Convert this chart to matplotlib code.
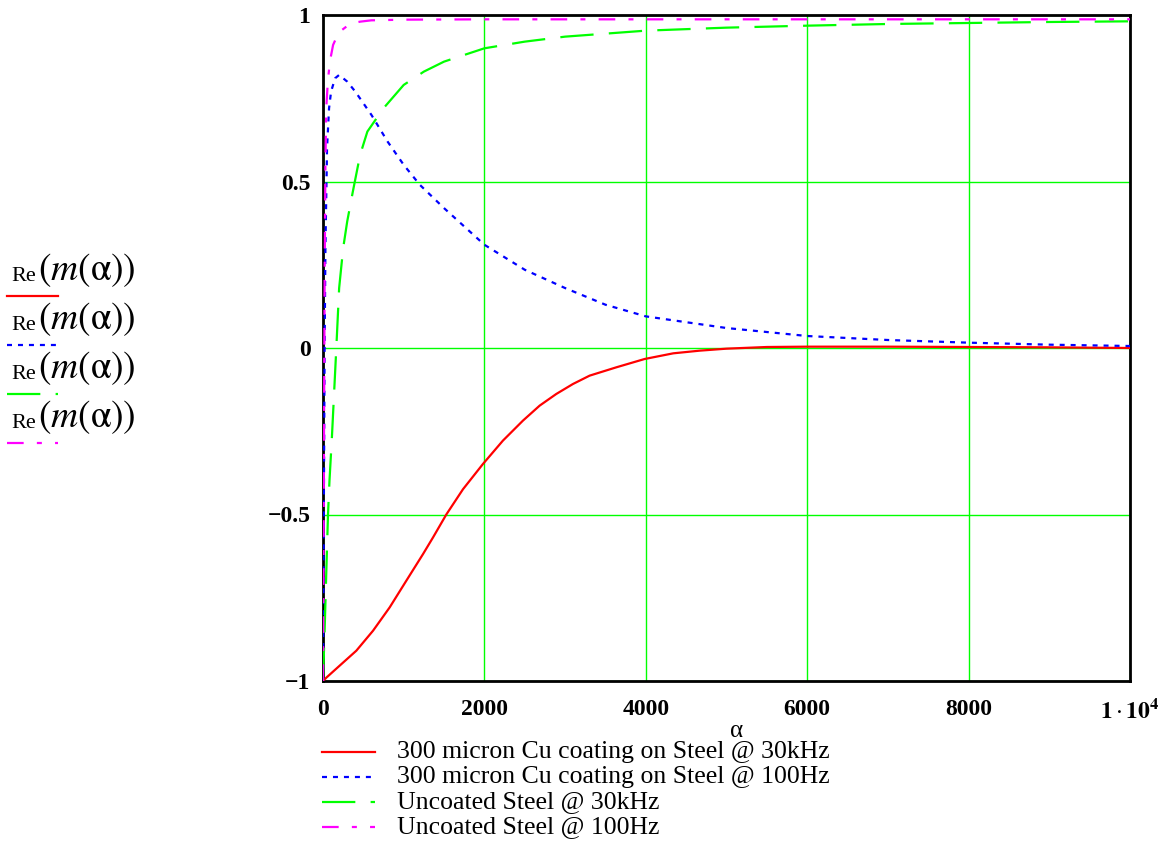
import matplotlib
matplotlib.use("Agg")
import matplotlib.pyplot as plt
from matplotlib.lines import Line2D

plt.rcParams['font.family'] = ['Liberation Serif', 'DejaVu Serif']
plt.rcParams['mathtext.fontset'] = 'stix'
plt.rcParams['lines.scale_dashes'] = False

# Re(m(alpha)) curves
alpha_red = [0, 41, 206, 413, 620, 826, 1032, 1239, 1363, 1528, 1735, 1983, 2230, 2478,
             2685, 2891, 3098, 3304, 3635, 3986, 4340, 4667, 5000, 5500, 6000, 7000,
             8000, 9000, 10000]
re_red = [-1, -0.99, -0.954, -0.909, -0.849, -0.779, -0.699, -0.619, -0.569, -0.5, -0.424,
          -0.348, -0.278, -0.218, -0.173, -0.138, -0.108, -0.083, -0.058, -0.033, -0.016,
          -0.008, -0.002, 0.003, 0.004, 0.004, 0.003, 0.002, 0.0]

alpha_blue = [0, 10, 20, 30, 50, 75, 100, 150, 200, 300, 400, 600, 800, 1000, 1200,
              1500, 2000, 2500, 3000, 3500, 4000, 5000, 6000, 7000, 8000, 9000, 10000]
re_blue = [-1, -0.5, 0.0, 0.3, 0.6, 0.72, 0.77, 0.81, 0.82, 0.8, 0.77, 0.7, 0.62, 0.55,
           0.49, 0.42, 0.31, 0.235, 0.18, 0.13, 0.095, 0.06, 0.036, 0.024, 0.016, 0.01, 0.006]

alpha_green = [0, 20, 40, 62, 80, 110, 165, 200, 250, 300, 370, 460, 550, 750, 1000,
               1250, 1500, 2000, 2500, 3000, 4000, 5000, 6000, 7000, 8000, 9000, 10000]
re_green = [-1, -0.85, -0.68, -0.5, -0.4, -0.27, 0.0, 0.18, 0.3, 0.38, 0.47, 0.58, 0.65,
            0.72, 0.79, 0.83, 0.86, 0.9, 0.92, 0.935, 0.953, 0.962, 0.968, 0.973, 0.976,
            0.979, 0.981]

alpha_mag = [0, 10, 20, 30, 40, 60, 85, 125, 180, 235, 300, 360, 460, 600, 1000, 2000,
             4000, 6000, 8000, 10000]
re_mag = [-1, -0.4, 0.2, 0.55, 0.72, 0.8, 0.86, 0.91, 0.94, 0.955, 0.967, 0.975, 0.98,
          0.984, 0.986, 0.987, 0.987, 0.987, 0.987, 0.987]

series_labels = ["300 micron Cu coating on Steel @ 30kHz",
                 "300 micron Cu coating on Steel @ 100Hz",
                 "Uncoated Steel @ 30kHz",
                 "Uncoated Steel @ 100Hz"]

x_ticks = [0, 2000, 4000, 6000, 8000, 10000]
x_ticklabels = ["0", "2000", "4000", "6000", "8000",
                r"$\mathbf{1}\cdot\mathbf{10}^{\mathbf{4}}$"]
y_ticks = [-1, -0.5, 0, 0.5, 1]
y_ticklabels = ["\u22121", "\u22120.5", "0", "0.5", "1"]

styles = [
    dict(color="#ff0000", linestyle="-"),
    dict(color="#0000ff", linestyle=(0, (3.6, 4.3))),
    dict(color="#00ff00", linestyle=(0, (24, 11))),
    dict(color="#ff00ff", linestyle=(0, (12, 9.5, 3.6, 9.5))),
]

fig = plt.figure(figsize=(11.63, 8.44), dpi=100)
W, H = 1163, 844
ax = fig.add_axes([323 / W, 1 - 681 / H, (1130 - 323) / W, (681 - 15) / H])

data = [(alpha_red, re_red), (alpha_blue, re_blue), (alpha_green, re_green), (alpha_mag, re_mag)]
for (xs, ys), st in zip(data, styles):
    ax.plot(xs, ys, lw=1.6, zorder=3, **st)

ax.set_xlim(0, 10000)
ax.set_ylim(-1, 1)
ax.set_xticks(x_ticks)
ax.set_xticklabels(x_ticklabels, fontweight="bold", fontsize=17)
ax.set_yticks(y_ticks)
ax.set_yticklabels(y_ticklabels, fontweight="bold", fontsize=17)
ax.tick_params(axis="y", length=0, pad=9)
ax.tick_params(axis="x", length=0, pad=13)
ax.grid(True, color="#00ff00", lw=1)
for sp in ax.spines.values():
    sp.set_linewidth(2)
    sp.set_color("black")
ax.set_xlabel("\u03b1", fontsize=18, va="center")
ax.xaxis.set_label_coords((737 - 323) / 807, (681 - 731) / 666)

# left-hand labels
for i, st in enumerate(styles):
    yb = 280 + 49 * i
    fig.text(11 / W, 1 - (yb + 1) / H, "Re", fontsize=16, va="baseline")
    fig.text(38 / W, 1 - yb / H, r"$(m(\mathrm{\alpha}))$", fontsize=27, va="baseline")
    fig.add_artist(Line2D([7 / W, 58 / W], [1 - (yb + 16) / H] * 2, lw=1.6, **st))

# bottom legend
for i, (st, lab) in enumerate(zip(styles, series_labels)):
    yc = 752 + 25 * i
    fig.add_artist(Line2D([322 / W, 375 / W], [1 - yc / H] * 2, lw=1.6, **st))
    fig.text(397 / W, 1 - yc / H, lab, fontsize=18.5, va="center")

fig.savefig("out.png", dpi=100)
